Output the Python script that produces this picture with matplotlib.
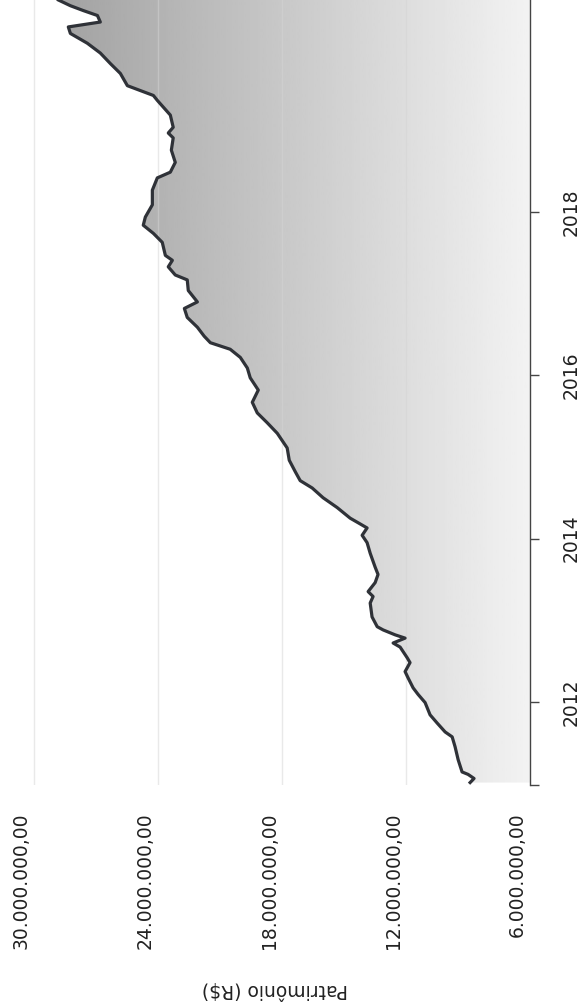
import numpy as np
import matplotlib
matplotlib.use("Agg")
import matplotlib.pyplot as plt
from matplotlib.patches import Polygon
from matplotlib.transforms import ScaledTranslation

# Série (ano decimal, patrimônio em milhões de R$)
tempo = [2011.01, 2011.06, 2011.11, 2011.14, 2011.29, 2011.45, 2011.57, 2011.63,
         2011.74, 2011.84, 2011.99, 2012.09, 2012.17, 2012.29, 2012.37, 2012.48,
         2012.54, 2012.67, 2012.72, 2012.78, 2012.82, 2012.88, 2012.92, 2013.04,
         2013.21, 2013.29, 2013.35, 2013.46, 2013.56, 2013.65, 2013.82, 2013.95,
         2014.04, 2014.13, 2014.18, 2014.25, 2014.38, 2014.50, 2014.62, 2014.71,
         2014.82, 2014.96, 2015.11, 2015.29, 2015.42, 2015.54, 2015.67, 2015.82,
         2015.97, 2016.09, 2016.22, 2016.32, 2016.40, 2016.48, 2016.59, 2016.71,
         2016.82, 2016.90, 2017.04, 2017.17, 2017.23, 2017.33, 2017.41, 2017.47,
         2017.63, 2017.74, 2017.84, 2017.94, 2018.09, 2018.27, 2018.42, 2018.49,
         2018.61, 2018.76, 2018.91, 2018.97, 2019.04, 2019.19, 2019.37, 2019.43,
         2019.49, 2019.55, 2019.70, 2019.82, 2019.95, 2020.07, 2020.19, 2020.27,
         2020.33, 2020.41, 2020.47, 2020.53, 2020.60]
patrimonio_mi = [8.90, 8.71, 9.00, 9.29, 9.48, 9.63, 9.77, 10.11,
                 10.50, 10.84, 11.08, 11.42, 11.66, 11.90, 12.05, 11.81,
                 11.95, 12.29, 12.63, 12.05, 12.53, 13.11, 13.40, 13.65,
                 13.74, 13.60, 13.84, 13.50, 13.36, 13.50, 13.74, 13.89,
                 14.13, 13.89, 14.23, 14.71, 15.34, 16.02, 16.55, 17.13,
                 17.37, 17.66, 17.76, 18.24, 18.73, 19.21, 19.45, 19.16,
                 19.55, 19.69, 20.03, 20.52, 21.48, 21.78, 22.11, 22.60,
                 22.74, 22.11, 22.55, 22.60, 23.18, 23.52, 23.32, 23.66,
                 23.81, 24.24, 24.73, 24.63, 24.29, 24.29, 24.05, 23.42,
                 23.18, 23.37, 23.28, 23.52, 23.28, 23.42, 24.05, 24.24,
                 24.87, 25.50, 25.84, 26.32, 26.81, 27.44, 28.26, 28.36,
                 26.81, 26.95, 27.63, 28.26, 28.84]

ticks_valor = [6e6, 12e6, 18e6, 24e6, 30e6]
grade_valor = [12e6, 18e6, 24e6, 30e6]
ticks_ano = [2012, 2014, 2016, 2018]

ano_ini, ano_fim = 2010.98, 2020.60
valor_min, valor_max = 6e6, 30.7e6
cor_texto = "#222222"
cor_eixo = "#444444"
tam_fonte = 13.5


def formata_real(v):
    s = f"{v:,.2f}"
    return s.replace(",", "X").replace(".", ",").replace("X", ".")


t = np.array(tempo)
v = np.array(patrimonio_mi) * 1e6

fig = plt.figure(figsize=(5.83, 10.06), dpi=100)
ax = fig.add_axes([20 / 583, (1006 - 785) / 1006, 510 / 583, 785 / 1006])

# Área sob a curva com degradê (escuro nos valores altos)
verts = [(valor_min, t[0])] + list(zip(v, t)) + [(valor_min, t[-1])]
area = Polygon(verts, closed=True, facecolor="none", edgecolor="none")
ax.add_patch(area)
grad_vals = np.linspace(valor_min, valor_max, 256)
cinza = np.clip(0.95 - (grad_vals / 1e6 - 6) * 0.0138, 0, 1)
img = ax.imshow(cinza[np.newaxis, :], cmap="gray", vmin=0, vmax=1,
                extent=(valor_min, valor_max, ano_ini, ano_fim),
                aspect="auto", origin="lower", zorder=1)
img.set_clip_path(area)

for g in grade_valor:
    ax.axvline(g, color="#d4d4d4", lw=1, alpha=0.5, zorder=2)

ax.plot(v, t, color="#2f3238", lw=2.3, zorder=3, solid_joinstyle="round")

ax.set_xlim(valor_max, valor_min)
ax.set_ylim(ano_ini, ano_fim)

for lado in ["left", "top", "bottom"]:
    ax.spines[lado].set_visible(False)
ax.spines["right"].set_color(cor_eixo)
ax.spines["right"].set_linewidth(1)

# Eixo do tempo (à direita, girado)
ax.yaxis.tick_right()
ax.set_yticks(ticks_ano)
ax.set_yticklabels([str(a) for a in ticks_ano])
ax.set_yticks([ano_ini], minor=True)
ax.tick_params(axis="y", which="both", direction="out", length=6.5, width=1,
               color=cor_eixo, pad=16, labelsize=tam_fonte, labelcolor=cor_texto,
               labelrotation=90)
for lbl in ax.get_yticklabels():
    lbl.set_va("center")

# Eixo de valores (embaixo, girado)
ax.set_xticks(ticks_valor)
ax.set_xticklabels([formata_real(x) for x in ticks_valor], rotation=90)
ax.tick_params(axis="x", length=0, pad=20, labelsize=tam_fonte, labelcolor=cor_texto)
desloc = ScaledTranslation(-13 / 100, 0, fig.dpi_scale_trans)
for lbl in ax.get_xticklabels():
    lbl.set_transform(lbl.get_transform() + desloc)

ax.set_xlabel("Patrimônio (R$)", rotation=180, fontsize=tam_fonte, color=cor_texto,
              va="center", ha="center")
ax.xaxis.set_label_coords(0.5, -0.261)

fig.savefig("out.png", dpi=100)
